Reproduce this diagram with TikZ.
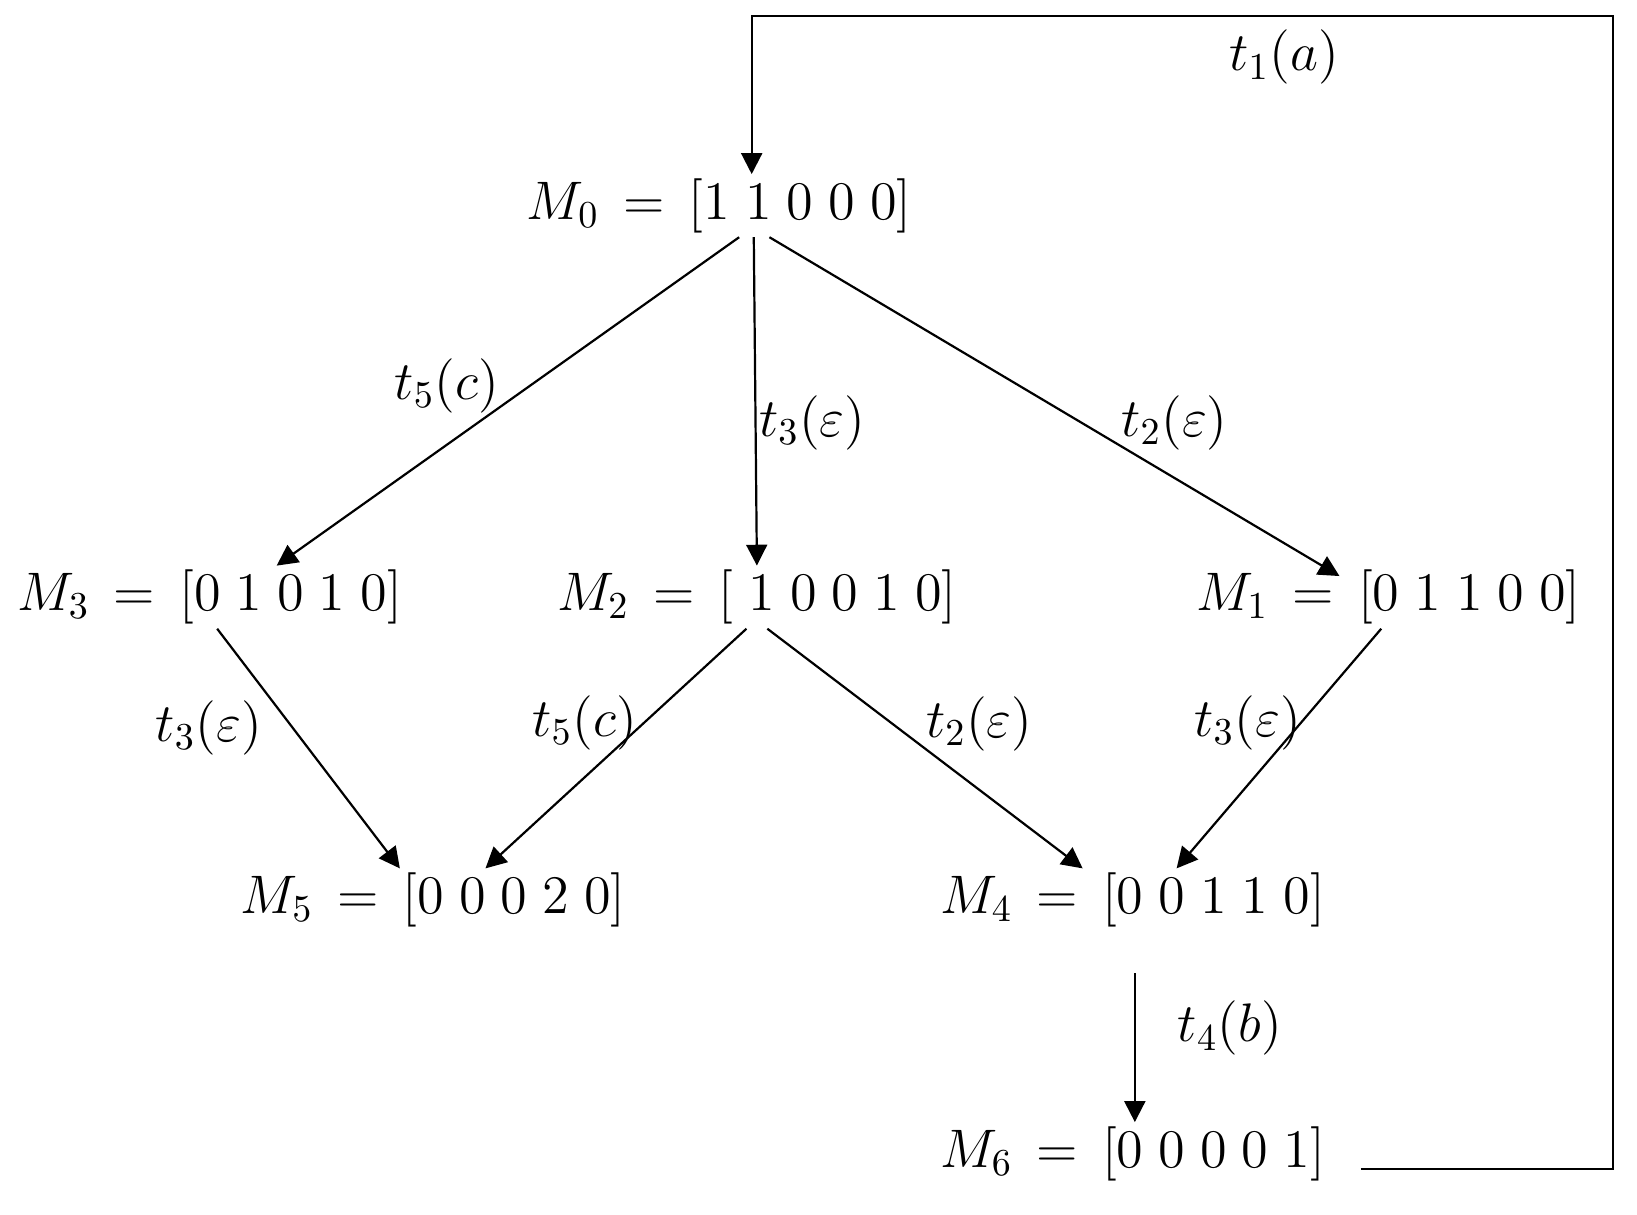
\documentclass[tikz,border=0pt]{standalone}
\usepackage{fix-cm}
\usetikzlibrary{arrows.meta}
\begin{document}
\begin{tikzpicture}[arrow/.style = {semithick,-{Triangle[length=2mm,width=2mm]}},
                    state/.style = {inner sep=1pt,font=\fontsize{14.8}{17}\selectfont}]
    \useasboundingbox (0,0) rectangle (15.68,11.63);

    % Markings
    \node [state] (M0) at (6.89,9.66) {$M_0\,=\,[1\;1\;0\;0\;0]$};
    \node [state] (M3) at (2.01,5.91) {$M_3\,=\,[0\;1\;0\;1\;0]$};
    \node [state] (M2) at (7.25,5.91) {$M_2\,=\,[\;1\;0\;0\;1\;0]$};
    \node [state] (M1) at (13.30,5.91) {$M_1\,=\,[0\;1\;1\;0\;0]$};
    \node [state] (M5) at (4.15,3.01) {$M_5\,=\,[0\;0\;0\;2\;0]$};
    \node [state] (M4) at (10.85,3.01) {$M_4\,=\,[0\;0\;1\;1\;0]$};
    \node [state] (M6) at (10.85,0.58) {$M_6\,=\,[0\;0\;0\;0\;1]$};

    % Transitions
    \node [state] (l1) at (12.30,11.08) {$t_1(a)$};
    \node [state] (l5a) at (4.28,7.93) {$t_5(c)$};
    \node [state] (l3a) at (7.78,7.58) {$t_3(\varepsilon)$};
    \node [state] (l2a) at (11.25,7.58) {$t_2(\varepsilon)$};
    \node [state] (l3b) at (2.00,4.66) {$t_3(\varepsilon)$};
    \node [state] (l5b) at (5.60,4.71) {$t_5(c)$};
    \node [state] (l2b) at (9.38,4.70) {$t_2(\varepsilon)$};
    \node [state] (l3c) at (11.95,4.71) {$t_3(\varepsilon)$};
    \node [state] (l4) at (11.78,1.78) {$t_4(b)$};

    \draw[arrow] ([xshift=0.19cm]M0.south) -- ([xshift=0.64cm]M3.north);
    \draw[arrow] ([xshift=0.33cm]M0.south) -- (M2.north);
    \draw[arrow] ([xshift=0.48cm]M0.south) -- ([xshift=-0.47cm,yshift=-0.1cm]M1.north);
    \draw[arrow] ([xshift=0.07cm]M3.south) -- ([xshift=-0.32cm]M5.north);
    \draw[arrow] ([xshift=-0.10cm]M2.south) -- ([xshift=0.50cm]M5.north);
    \draw[arrow] ([xshift=0.10cm]M2.south) -- ([xshift=-0.48cm]M4.north);
    \draw[arrow] ([xshift=-0.07cm]M1.south) -- ([xshift=0.42cm]M4.north);
    \draw[arrow] ([xshift=0.02cm,yshift=-0.4cm]M4.south) -- ([xshift=0.02cm]M6.north);
    \draw[arrow] ([xshift=0.30cm,yshift=-0.15cm]M6.east) -| (15.45,11.48) -| ([xshift=0.31cm]M0.north);
\end{tikzpicture}
\end{document}
